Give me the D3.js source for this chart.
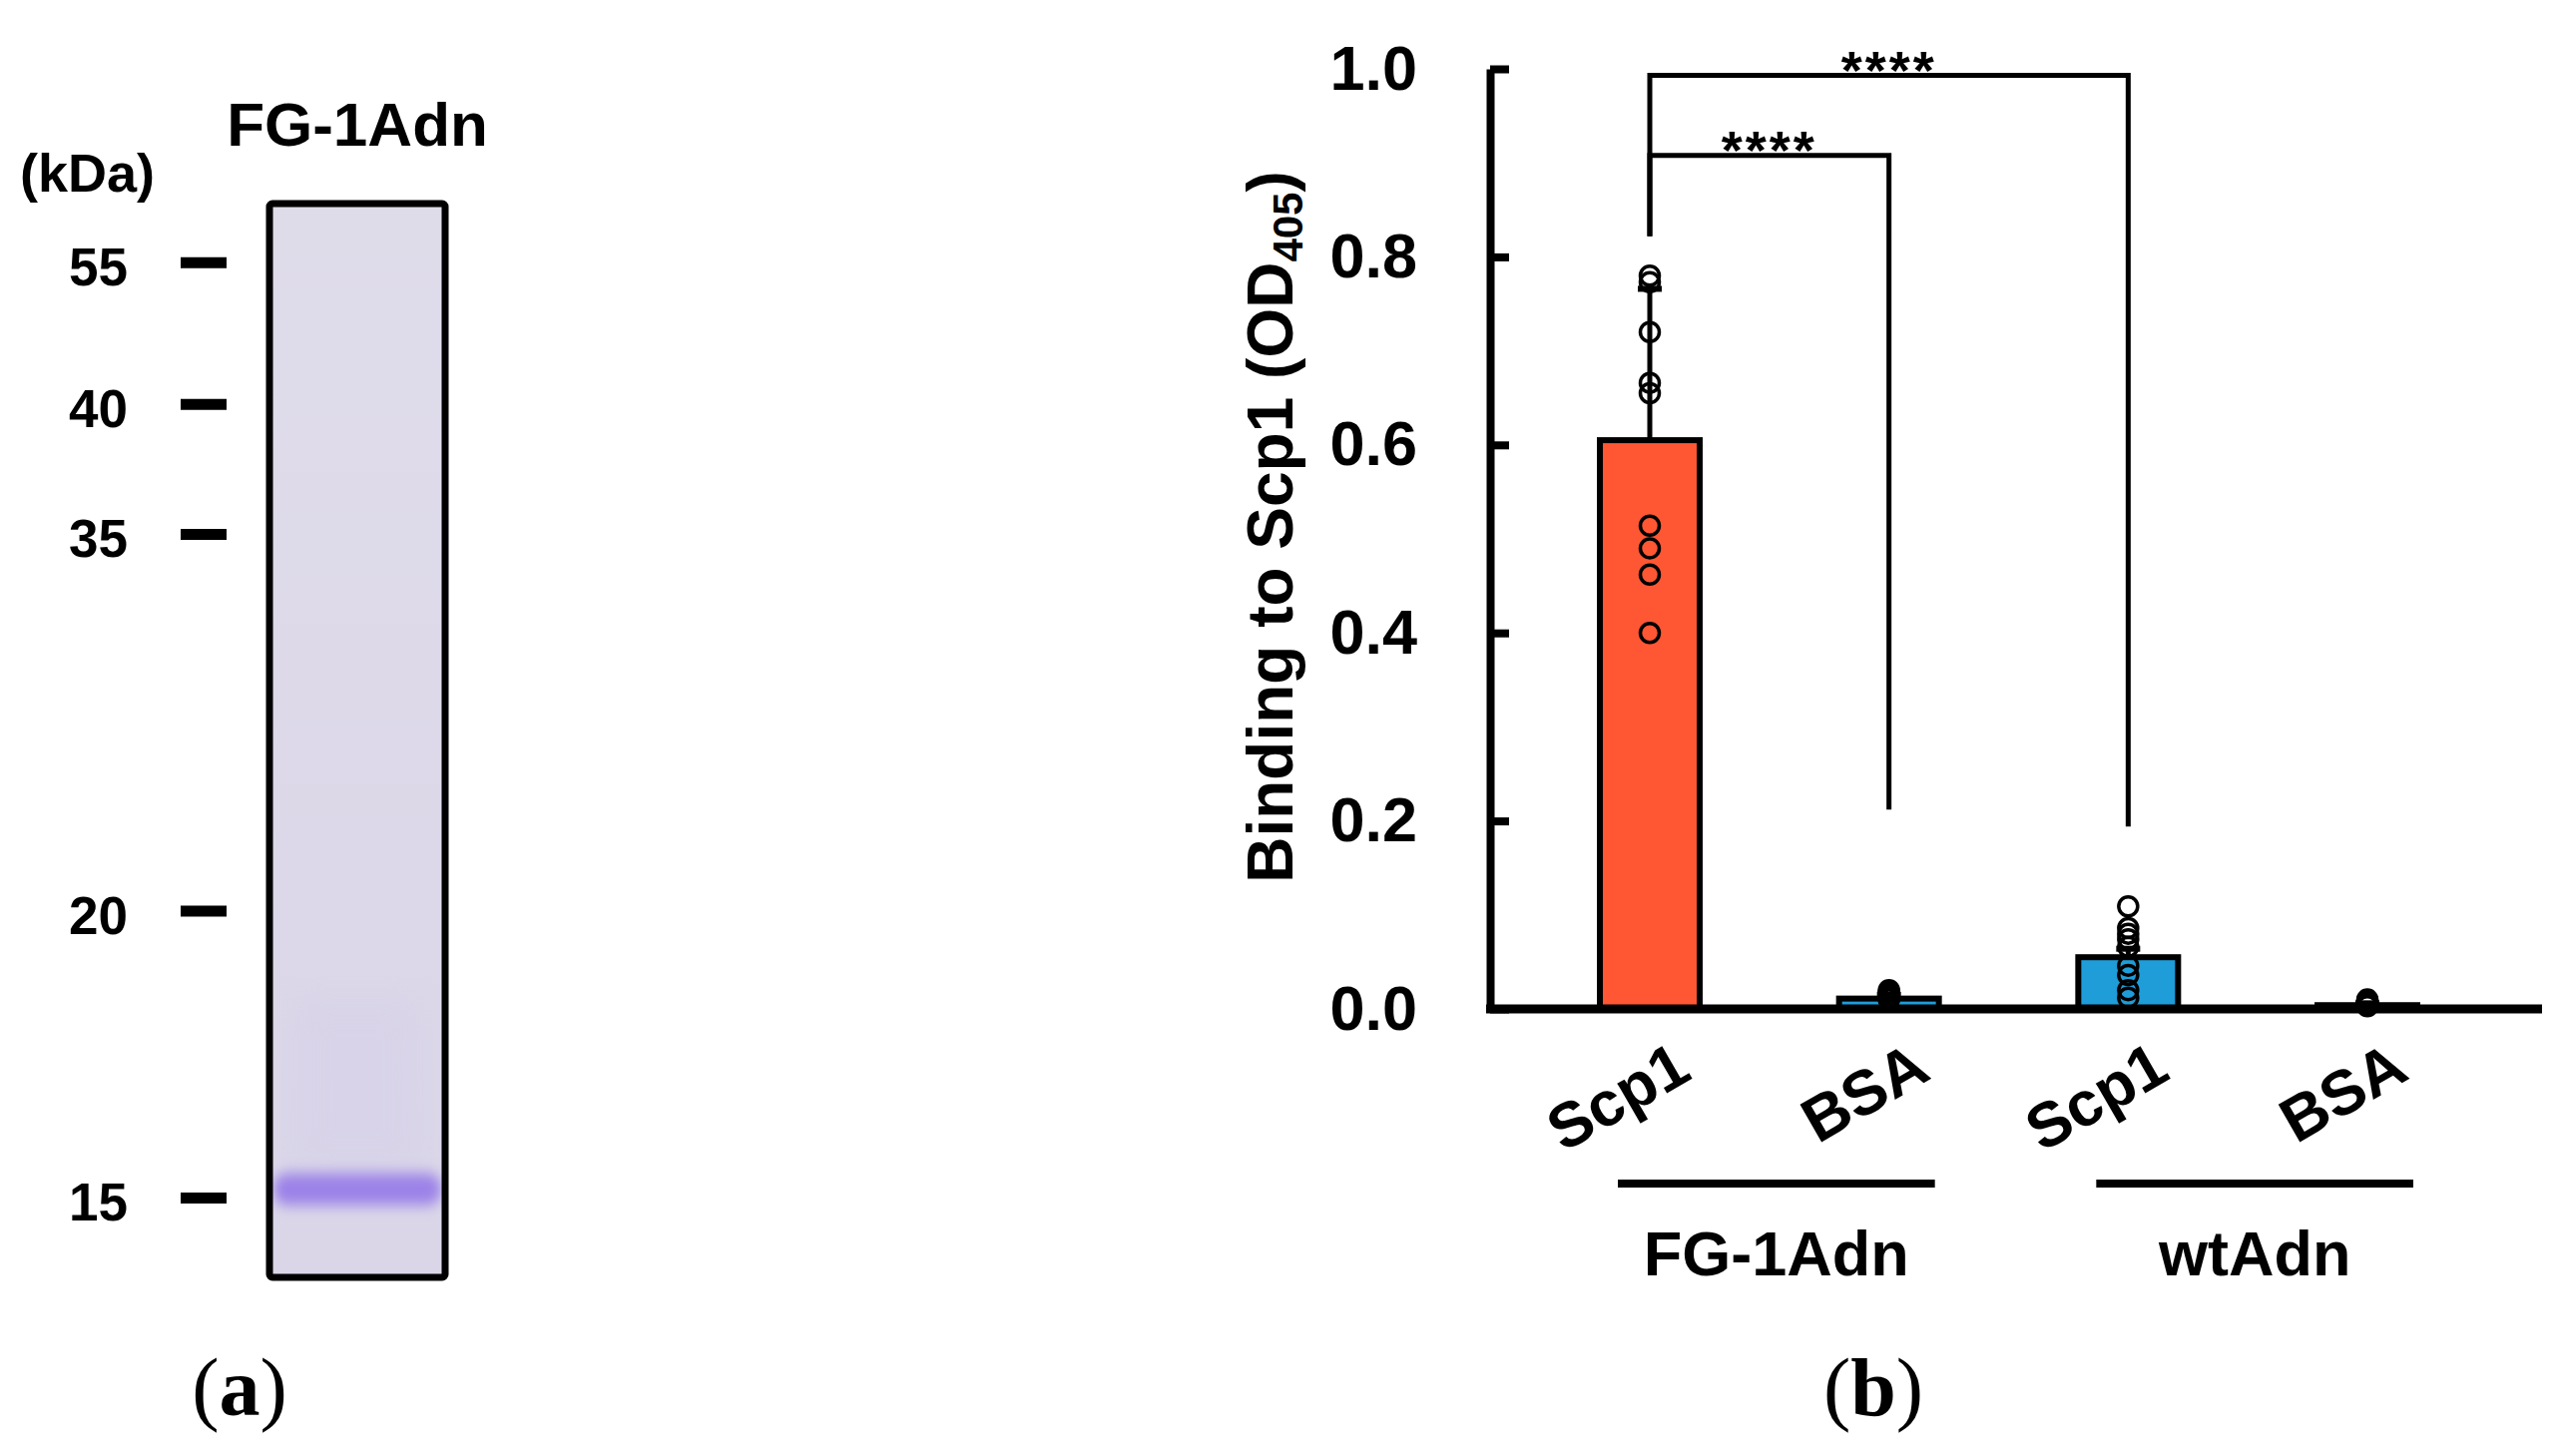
<!DOCTYPE html>
<html>
<head>
<meta charset="utf-8">
<script src="https://cdn.jsdelivr.net/npm/d3@7"></script>
<style>
  body { margin: 0; background: #fff; }
  svg { display: block; }
</style>
</head>
<body>
<div id="figure"></div>
<script>
// (b) binding ELISA
let categories = ['FG-1Adn|Scp1', 'FG-1Adn|BSA', 'wtAdn|Scp1', 'wtAdn|BSA'];
let targetLabels = ['Scp1', 'BSA', 'Scp1', 'BSA'];
let groupNames = ['FG-1Adn', 'wtAdn'];
let means = [0.605, 0.011, 0.055, 0.004];
let sds = [0.161, 0.004, 0.009, 0.002];
let points = [
  [0.780, 0.773, 0.720, 0.666, 0.655, 0.514, 0.490, 0.462, 0.400],
  [0.020, 0.018, 0.017, 0.015, 0.014, 0.013, 0.012, 0.011, 0.010],
  [0.109, 0.086, 0.080, 0.074, 0.066, 0.046, 0.036, 0.020, 0.012],
  [0.010, 0.009, 0.008, 0.007, 0.006, 0.005, 0.004, 0.004, 0.003]
];
let barColors = ['#ff5733', '#1e9dd8', '#1e9dd8', '#1e9dd8'];
let yTicks = [0, 0.2, 0.4, 0.6, 0.8, 1.0];

// significance brackets
let bracketFrom = ['FG-1Adn|Scp1', 'FG-1Adn|Scp1'];
let bracketTo = ['wtAdn|Scp1', 'FG-1Adn|BSA'];
let bracketLevel = [0.993, 0.908];
let bracketLeftEnd = [0.822, 0.822];
let bracketRightEnd = [0.194, 0.212];
let bracketText = ['****', '****'];

// (a) SDS-PAGE gel
let markerKDa = [55, 40, 35, 20, 15];
let markerRf = [0.055, 0.187, 0.308, 0.659, 0.926];
let bandRf = 0.918;

let W = 2571, H = 1459;
let sans = 'Liberation Sans, Arial, Helvetica, sans-serif';
let serif = 'Liberation Serif, Times New Roman, serif';

let svg = d3.select('#figure').append('svg')
  .attr('width', W).attr('height', H)
  .attr('viewBox', `0 0 ${W} ${H}`)
  .style('font-family', sans);

svg.append('rect').attr('width', W).attr('height', H).attr('fill', '#fff');

// ---------- panel (b) ----------
let axisX = 1493;
let axisRight = 2547;
let y = d3.scaleLinear().domain([0, 1]).range([1011, 69]);
let x = d3.scalePoint().domain(categories).range([1653, 2372]);
let barW = 100;

let yAxis = svg.append('g')
  .attr('transform', `translate(${axisX},0)`)
  .call(d3.axisLeft(y).tickValues(yTicks).tickFormat(d3.format('.1f'))
    .tickSizeInner(-19).tickSizeOuter(0).tickPadding(73));
yAxis.select('.domain').attr('stroke', '#000').attr('stroke-width', 8);
yAxis.selectAll('.tick line').attr('stroke', '#000').attr('stroke-width', 8);
yAxis.selectAll('.tick text')
  .attr('fill', '#000')
  .style('font-family', sans)
  .style('font-weight', 'bold')
  .style('font-size', '63px');

// y title
let yTitle = svg.append('text')
  .attr('transform', `translate(1295,${(y(0) + y(1)) / 2 - 12}) rotate(-90)`)
  .attr('text-anchor', 'middle')
  .style('font-weight', 'bold')
  .style('font-size', '64px');
yTitle.append('tspan').text('Binding to Scp1 (OD');
yTitle.append('tspan').attr('dy', 10).style('font-size', '42px').text('405');
yTitle.append('tspan').attr('dy', -10).text(')');

// bars
svg.selectAll('rect.bar')
  .data(categories)
  .enter().append('rect')
  .classed('bar', true)
  .attr('x', d => x(d) - barW / 2)
  .attr('width', barW)
  .attr('y', (d, i) => y(means[i]))
  .attr('height', (d, i) => y(0) - y(means[i]))
  .attr('fill', (d, i) => barColors[i])
  .attr('stroke', '#000')
  .attr('stroke-width', 6);

// error bars
categories.forEach(function(c, i) {
  svg.append('line')
    .attr('x1', x(c)).attr('x2', x(c))
    .attr('y1', y(means[i])).attr('y2', y(means[i] + sds[i]))
    .attr('stroke', '#000').attr('stroke-width', 5);
  svg.append('line')
    .attr('x1', x(c) - 12).attr('x2', x(c) + 12)
    .attr('y1', y(means[i] + sds[i])).attr('y2', y(means[i] + sds[i]))
    .attr('stroke', '#000').attr('stroke-width', 6);
});

// x axis line
svg.append('line')
  .attr('x1', axisX - 4).attr('x2', axisRight)
  .attr('y1', y(0)).attr('y2', y(0))
  .attr('stroke', '#000').attr('stroke-width', 9);

// individual points
categories.forEach(function(c, i) {
  svg.selectAll(null)
    .data(points[i])
    .enter().append('circle')
    .attr('cx', x(c))
    .attr('cy', d => y(d))
    .attr('r', 9.5)
    .attr('fill', 'none')
    .attr('stroke', '#000')
    .attr('stroke-width', 3.5);
});

// brackets
bracketFrom.forEach(function(f, i) {
  let x1 = x(f), x2 = x(bracketTo[i]);
  let yl = y(bracketLevel[i]);
  svg.append('path')
    .attr('d', `M${x1},${y(bracketLeftEnd[i])}V${yl}H${x2}V${y(bracketRightEnd[i])}`)
    .attr('fill', 'none')
    .attr('stroke', '#000')
    .attr('stroke-width', 5)
    .attr('stroke-linejoin', 'miter');
  svg.append('text')
    .attr('x', (x1 + x2) / 2)
    .attr('y', yl - 18 + 0.585 * 54)
    .attr('text-anchor', 'middle')
    .style('font-weight', 'bold')
    .style('font-size', '54px')
    .style('letter-spacing', '3px')
    .text(bracketText[i]);
});

// category labels
svg.selectAll('text.cat')
  .data(categories)
  .enter().append('text')
  .classed('cat', true)
  .attr('transform', d => `translate(${x(d) + 44},1080) rotate(-30)`)
  .attr('text-anchor', 'end')
  .style('font-weight', 'bold')
  .style('font-size', '63px')
  .text((d, i) => targetLabels[i]);

// group lines and names
groupNames.forEach(function(g) {
  let members = categories.filter(c => c.split('|')[0] === g);
  let gx1 = x(members[0]) - 32, gx2 = x(members[members.length - 1]) + 46;
  svg.append('line')
    .attr('x1', gx1).attr('x2', gx2)
    .attr('y1', 1186).attr('y2', 1186)
    .attr('stroke', '#000').attr('stroke-width', 8);
  svg.append('text')
    .attr('x', (gx1 + gx2) / 2)
    .attr('y', 1278)
    .attr('text-anchor', 'middle')
    .style('font-weight', 'bold')
    .style('font-size', '63px')
    .text(g);
});

// ---------- panel (a) ----------
let lane = {x: 270, y: 204, w: 176, h: 1076};
let rf = d3.scaleLinear().domain([0, 1]).range([lane.y, lane.y + lane.h]);

let defs = svg.append('defs');
let grad = defs.append('linearGradient').attr('id', 'laneGrad')
  .attr('x1', 0).attr('y1', 0).attr('x2', 0).attr('y2', 1);
grad.append('stop').attr('offset', '0%').attr('stop-color', '#dfdcea');
grad.append('stop').attr('offset', '60%').attr('stop-color', '#dcd8e9');
grad.append('stop').attr('offset', '100%').attr('stop-color', '#dad6e8');
defs.append('filter').attr('id', 'blurBand')
  .attr('x', '-20%').attr('y', '-100%').attr('width', '140%').attr('height', '300%')
  .append('feGaussianBlur').attr('stdDeviation', '6 7');
defs.append('filter').attr('id', 'blurSmear')
  .append('feGaussianBlur').attr('stdDeviation', 16);
defs.append('clipPath').attr('id', 'laneClip')
  .append('rect').attr('x', lane.x).attr('y', lane.y).attr('width', lane.w).attr('height', lane.h);

svg.append('rect')
  .attr('x', lane.x).attr('y', lane.y).attr('width', lane.w).attr('height', lane.h)
  .attr('fill', 'url(#laneGrad)');

let laneG = svg.append('g').attr('clip-path', 'url(#laneClip)');
laneG.append('rect')
  .attr('x', lane.x + 25).attr('y', rf(0.74)).attr('width', lane.w - 50).attr('height', rf(0.90) - rf(0.74))
  .attr('fill', '#cfc7e6').attr('opacity', 0.22)
  .attr('filter', 'url(#blurSmear)');
laneG.append('rect')
  .attr('x', lane.x + 4).attr('y', rf(bandRf) - 16).attr('width', lane.w - 8).attr('height', 32)
  .attr('rx', 14)
  .attr('fill', '#9b82e8')
  .attr('filter', 'url(#blurBand)');

svg.append('rect')
  .attr('x', lane.x).attr('y', lane.y).attr('width', lane.w).attr('height', lane.h)
  .attr('rx', 3)
  .attr('fill', 'none').attr('stroke', '#000').attr('stroke-width', 7);

svg.append('text')
  .attr('x', lane.x + lane.w / 2)
  .attr('y', 146)
  .attr('text-anchor', 'middle')
  .style('font-weight', 'bold')
  .style('font-size', '62px')
  .text('FG-1Adn');

svg.append('text')
  .attr('x', 20).attr('y', 192)
  .style('font-weight', 'bold')
  .style('font-size', '54px')
  .text('(kDa)');

markerKDa.forEach(function(k, i) {
  let my = rf(markerRf[i]);
  svg.append('line')
    .attr('x1', 181).attr('x2', 227)
    .attr('y1', my).attr('y2', my)
    .attr('stroke', '#000').attr('stroke-width', 11);
  svg.append('text')
    .attr('x', 128).attr('y', my + 23)
    .attr('text-anchor', 'end')
    .style('font-weight', 'bold')
    .style('font-size', '53px')
    .text(k);
});

// panel letters
[['a', 240], ['b', 1877]].forEach(function(p) {
  let t = svg.append('text')
    .attr('x', p[1]).attr('y', 1418)
    .attr('text-anchor', 'middle')
    .style('font-family', serif)
    .style('font-size', '82px');
  t.append('tspan').text('(');
  t.append('tspan').style('font-weight', 'bold').text(p[0]);
  t.append('tspan').text(')');
});
</script>
</body>
</html>
